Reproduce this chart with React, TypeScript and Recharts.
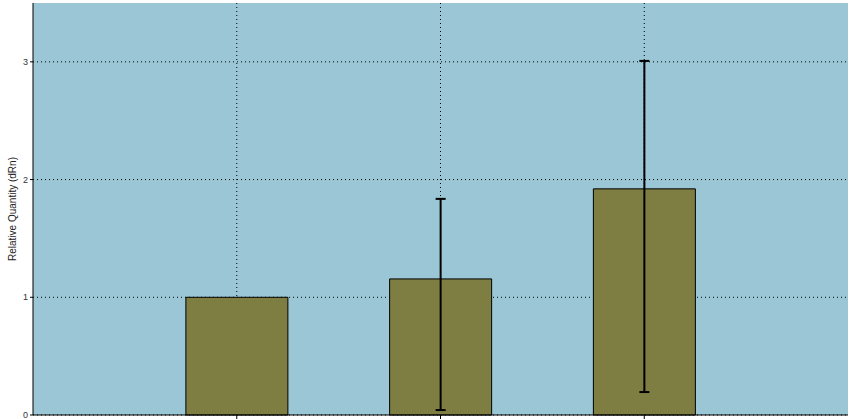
import React from 'react';
import {
  BarChart,
  Bar,
  XAxis,
  YAxis,
  CartesianGrid,
  ErrorBar
} from 'recharts';

const positions = [1, 2, 3];
const quantities = [1.0, 1.156, 1.921];
const errLow = [null, 1.114, 1.726];
const errHigh = [null, 0.68, 1.087];
const yTicks = [0, 1, 2, 3];
const yMinorTicks = [0.5, 1.5, 2.5, 3.5];

const data = positions.map((p, i) => ({
  x: p,
  rq: quantities[i],
  err: errLow[i] == null ? undefined : [errLow[i], errHigh[i]],
}));

export default function App() {
  return (
    <div style={{ position: 'absolute', left: 0, top: 0, fontFamily: 'Liberation Sans, Arial, sans-serif' }}>
      <BarChart width={850} height={419} data={data} margin={{ top: 3, right: 2, bottom: 0, left: 0 }}>
        <CartesianGrid fill="#9ac6d5" stroke="#000" strokeDasharray="1 3" syncWithTicks />
        <XAxis
          dataKey="x"
          type="number"
          domain={[0, 4]}
          ticks={positions}
          height={4}
          tickSize={4}
          tickFormatter={() => ''}
          stroke="#000"
        />
        <YAxis
          yAxisId="minor"
          domain={[0, 3.5]}
          ticks={yMinorTicks}
          interval={0}
          width={0}
          tickSize={3}
          mirror
          stroke="#000"
          axisLine={false}
          tickFormatter={() => ''}
        />
        <YAxis
          domain={[0, 3.5]}
          ticks={yTicks}
          interval={0}
          width={33}
          tickSize={3}
          stroke="#000"
          tick={{ fontSize: 9, fill: '#333' }}
          label={{
            value: 'Relative Quantity (dRn)',
            angle: -90,
            position: 'center',
            dx: -4,
            style: { fontSize: 10, fill: '#222' },
          }}
        />
        <Bar dataKey="rq" fill="#7e7e42" stroke="#000" strokeWidth={1} barSize={102} isAnimationActive={false}>
          <ErrorBar dataKey="err" stroke="#000" strokeWidth={2} width={5} isAnimationActive={false} />
        </Bar>
      </BarChart>
    </div>
  );
}
